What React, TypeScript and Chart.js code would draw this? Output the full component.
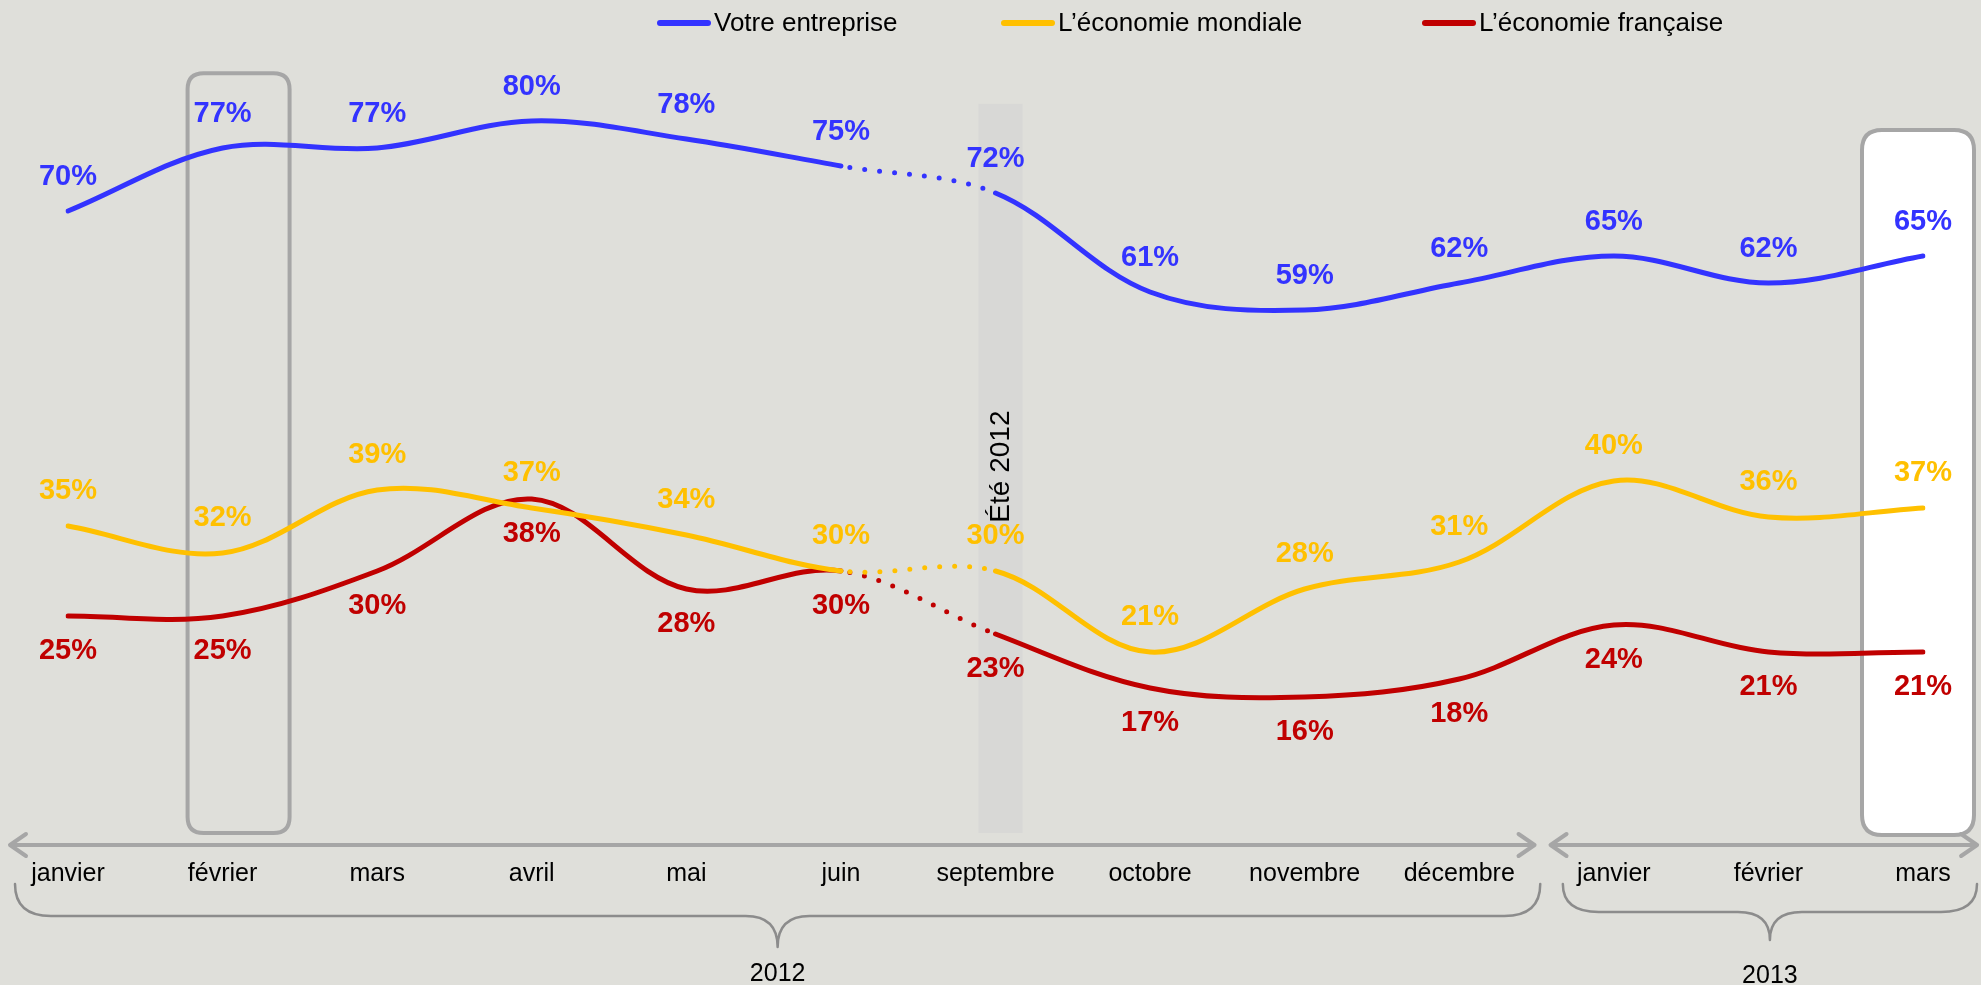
import React, { useEffect, useRef } from "react";
import { Chart, registerables } from "chart.js";

Chart.register(...registerables);

// ---------- data ----------
const categories = [
  "janvier", "février", "mars", "avril", "mai", "juin", "septembre",
  "octobre", "novembre", "décembre", "janvier", "février", "mars",
];
const votreEntreprise = [70, 77, 77, 80, 78, 75, 72, 61, 59, 62, 65, 62, 65];
const economieMondiale = [35, 32, 39, 37, 34, 30, 30, 21, 28, 31, 40, 36, 37];
const economieFrancaise = [25, 25, 30, 38, 28, 30, 23, 17, 16, 18, 24, 21, 21];
const seriesNames = ["Votre entreprise", "L’économie mondiale", "L’économie française"];
const seriesColors = ["#3333FF", "#FFC000", "#C00000"];
const yearLabels = ["2012", "2013"];
const summerLabel = "Été 2012";

// ---------- styles ----------
const BG = "#DFDFDA";
const FONT = "'Liberation Sans', Arial, sans-serif";
const GREY = "#A6A6A6";
const labelOffsets = [-34, -35, 35];
const legendStarts = [660, 1004, 1425];

function roundRect(ctx: CanvasRenderingContext2D, x: number, y: number, w: number, h: number, r: number) {
  ctx.beginPath();
  ctx.moveTo(x + r, y);
  ctx.lineTo(x + w - r, y);
  ctx.quadraticCurveTo(x + w, y, x + w, y + r);
  ctx.lineTo(x + w, y + h - r);
  ctx.quadraticCurveTo(x + w, y + h, x + w - r, y + h);
  ctx.lineTo(x + r, y + h);
  ctx.quadraticCurveTo(x, y + h, x, y + h - r);
  ctx.lineTo(x, y + r);
  ctx.quadraticCurveTo(x, y, x + r, y);
  ctx.closePath();
}

function arrowLine(ctx: CanvasRenderingContext2D, x1: number, x2: number, y: number) {
  ctx.beginPath();
  ctx.moveTo(x1, y);
  ctx.lineTo(x2, y);
  ctx.moveTo(x1 + 16, y - 11);
  ctx.lineTo(x1, y);
  ctx.lineTo(x1 + 16, y + 11);
  ctx.moveTo(x2 - 16, y - 11);
  ctx.lineTo(x2, y);
  ctx.lineTo(x2 - 16, y + 11);
  ctx.stroke();
}

function brace(ctx: CanvasRenderingContext2D, x1: number, x2: number, yTop: number, yMid: number, yTip: number) {
  const cx = (x1 + x2) / 2;
  ctx.beginPath();
  ctx.moveTo(x1, yTop);
  ctx.quadraticCurveTo(x1, yMid, x1 + 36, yMid);
  ctx.lineTo(cx - 32, yMid);
  ctx.quadraticCurveTo(cx, yMid, cx, yTip);
  ctx.quadraticCurveTo(cx, yMid, cx + 32, yMid);
  ctx.lineTo(x2 - 36, yMid);
  ctx.quadraticCurveTo(x2, yMid, x2, yTop);
  ctx.stroke();
  return cx;
}

const decorations = {
  id: "decorations",
  beforeDatasetsDraw(chart: any) {
    const { ctx, chartArea } = chart;
    const xs = chart.scales.x;
    const ys = chart.scales.y;
    ctx.save();
    // summer band
    const sx = xs.getPixelForValue(6);
    const bandTop = ys.getPixelForValue(81.9);
    ctx.fillStyle = "#D8D8D6";
    ctx.fillRect(sx - 17, bandTop, 44, chartArea.bottom - 8 - bandTop);

    // février box
    ctx.lineWidth = 4;
    ctx.strokeStyle = GREY;
    const fx = xs.getPixelForValue(1) + 16;
    const fTop = ys.getPixelForValue(85.3);
    roundRect(ctx, fx - 51, fTop, 102, chartArea.bottom - 8 - fTop, 16);
    ctx.stroke();

    // mars 2013 box
    const mx = xs.getPixelForValue(12) - 5;
    const mTop = ys.getPixelForValue(79);
    roundRect(ctx, mx - 56, mTop, 112, chartArea.bottom - 6 - mTop, 20);
    ctx.fillStyle = "#FFFFFF";
    ctx.fill();
    ctx.stroke();
    ctx.restore();
  },
  afterDatasetsDraw(chart: any) {
    const { ctx, chartArea } = chart;
    const xs = chart.scales.x;
    const ys = chart.scales.y;
    const step = xs.getPixelForValue(1) - xs.getPixelForValue(0);
    ctx.save();

    // value labels
    ctx.font = `bold 29px ${FONT}`;
    ctx.textAlign = "center";
    ctx.textBaseline = "middle";
    chart.data.datasets.forEach((ds: any, di: number) => {
      const meta = chart.getDatasetMeta(di);
      ctx.fillStyle = seriesColors[di];
      meta.data.forEach((pt: any, i: number) => {
        ctx.fillText(`${ds.data[i]}%`, pt.x, pt.y + labelOffsets[di]);
      });
    });

    // summer label
    ctx.save();
    ctx.translate(xs.getPixelForValue(6) + 6, ys.getPixelForValue(41.6));
    ctx.rotate(-Math.PI / 2);
    ctx.font = `28px ${FONT}`;
    ctx.fillStyle = "#000";
    ctx.fillText(summerLabel, 0, 0);
    ctx.restore();

    // legend
    ctx.font = `26px ${FONT}`;
    ctx.textAlign = "left";
    const ly = 23;
    seriesNames.forEach((name, i) => {
      const lx = legendStarts[i];
      ctx.strokeStyle = seriesColors[i];
      ctx.lineWidth = 6;
      ctx.lineCap = "round";
      ctx.beginPath();
      ctx.moveTo(lx, ly);
      ctx.lineTo(lx + 48, ly);
      ctx.stroke();
      ctx.fillStyle = "#000";
      ctx.fillText(name, lx + 54, ly + 1);
    });

    // axis arrows
    ctx.strokeStyle = GREY;
    ctx.lineWidth = 4;
    ctx.lineCap = "round";
    ctx.lineJoin = "round";
    const ay = chartArea.bottom + 4;
    const gap = (xs.getPixelForValue(9) + xs.getPixelForValue(10)) / 2;
    arrowLine(ctx, xs.getPixelForValue(0) - 58, gap - 2, ay);
    arrowLine(ctx, gap + 14, xs.getPixelForValue(12) + 0.35 * step, ay);

    // braces
    ctx.strokeStyle = "#8C8C8C";
    ctx.lineWidth = 2.5;
    const c1 = brace(ctx, xs.getPixelForValue(0) - 53, xs.getPixelForValue(9) + 81, chartArea.bottom + 43, chartArea.bottom + 75, chartArea.bottom + 106);
    const c2 = brace(ctx, xs.getPixelForValue(10) - 51, xs.getPixelForValue(12) + 54, chartArea.bottom + 43, chartArea.bottom + 71, chartArea.bottom + 99);
    ctx.font = `25px ${FONT}`;
    ctx.fillStyle = "#000";
    ctx.textAlign = "center";
    ctx.textBaseline = "middle";
    ctx.fillText(yearLabels[0], c1, chartArea.bottom + 133);
    ctx.fillText(yearLabels[1], c2, chartArea.bottom + 135);
    ctx.restore();
  },
};

export default function App() {
  const ref = useRef<HTMLCanvasElement>(null);
  useEffect(() => {
    const seriesData = [votreEntreprise, economieMondiale, economieFrancaise];
    const chart = new Chart(ref.current as HTMLCanvasElement, {
      type: "line",
      data: {
        labels: categories,
        datasets: seriesData.map((d, i) => ({
          label: seriesNames[i],
          data: d,
          borderColor: seriesColors[i],
          backgroundColor: seriesColors[i],
          borderWidth: 5,
          pointRadius: 0,
          tension: 0.35,
          fill: false,
          borderCapStyle: "round",
          borderJoinStyle: "round",
          segment: {
            borderDash: (ctx: any) => (ctx.p0DataIndex === 5 ? [0, 15] : undefined),
            borderDashOffset: (ctx: any) => (ctx.p0DataIndex === 5 ? -9 : 0),
          },
        })),
      } as any,
      options: {
        responsive: false,
        animation: false,
        layout: { padding: { left: 68, right: 58, top: 31, bottom: 78 } },
        plugins: { legend: { display: false }, tooltip: { enabled: false } },
        scales: {
          x: {
            type: "category",
            grid: { display: false, drawTicks: false },
            border: { display: false },
            ticks: {
              padding: 18,
              color: "#000",
              font: { family: FONT, size: 25 },
              autoSkip: false,
              maxRotation: 0,
            },
            afterFit: (s: any) => {
              s.height = 66;
            },
          },
          y: { display: false, min: 0, max: 90 },
        },
      } as any,
      plugins: [decorations],
    });
    return () => chart.destroy();
  }, []);
  return (
    <div style={{ position: "fixed", left: 0, top: 0, width: 1981, height: 985, background: BG }}>
      <canvas ref={ref} width={1981} height={985} style={{ display: "block" }} />
    </div>
  );
}
